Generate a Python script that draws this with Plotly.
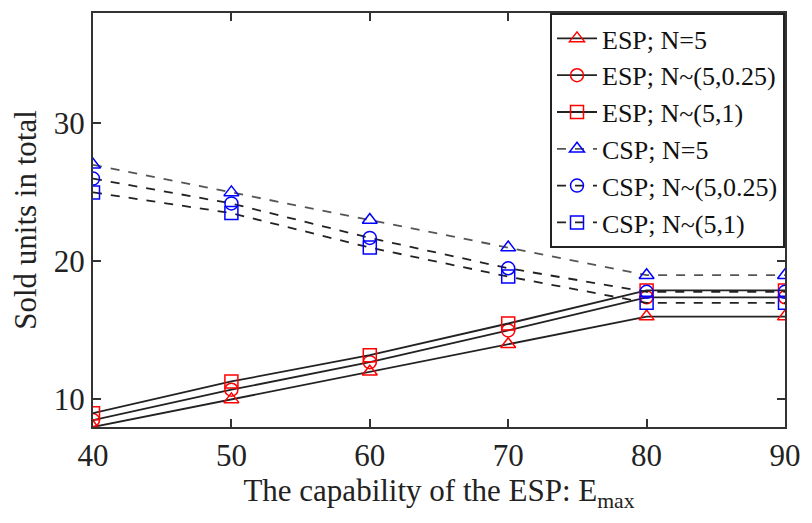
import plotly.graph_objects as go

x_vals = [40, 50, 60, 70, 80, 90]

esp_n5 = [8, 10, 12, 14, 16, 16]
esp_n025 = [8.5, 10.7, 12.7, 15.0, 17.4, 17.4]
esp_n1 = [9, 11.3, 13.2, 15.5, 17.9, 17.9]
csp_n5 = [27, 25, 23, 21, 19, 19]
csp_n025 = [26, 24.2, 21.7, 19.5, 17.8, 17.8]
csp_n1 = [25, 23.5, 21, 18.9, 17, 17]

series = [
    ("ESP; N=5", esp_n5, "triangle-up-open", "red", "solid", "#222222"),
    ("ESP; N~(5,0.25)", esp_n025, "circle-open", "red", "solid", "#222222"),
    ("ESP; N~(5,1)", esp_n1, "square-open", "red", "solid", "#222222"),
    ("CSP; N=5", csp_n5, "triangle-up-open", "blue", "dash", "#555555"),
    ("CSP; N~(5,0.25)", csp_n025, "circle-open", "blue", "dash", "#222222"),
    ("CSP; N~(5,1)", csp_n1, "square-open", "blue", "dash", "#222222"),
]

font_family = "Liberation Serif, Times New Roman, serif"

fig = go.Figure()
for name, ys, sym, col, dash, lcol in series:
    fig.add_trace(go.Scatter(
        x=x_vals, y=ys, name=name, mode="lines+markers",
        line=dict(color=lcol, width=1.8, dash=dash),
        marker=dict(symbol=sym, color=col, size=13, line=dict(width=1.5, color=col)),
    ))

axis_common = dict(
    showline=True, linecolor="#333333", linewidth=2, mirror="ticks",
    ticks="inside", ticklen=8, tickwidth=2, tickcolor="#333333",
    showgrid=False, zeroline=False,
    tickfont=dict(family=font_family, size=31, color="#222222"),
)

fig.update_layout(
    width=812, height=523,
    margin=dict(l=93, r=19, t=11, b=96),
    plot_bgcolor="white", paper_bgcolor="white",
    font=dict(family=font_family, size=31, color="#222222"),
    xaxis=dict(range=[40, 90], tickvals=[40, 50, 60, 70, 80, 90],
               title=dict(text="The capability of the ESP: E<sub>max</sub>",
                          font=dict(family=font_family, size=31), standoff=6),
               **axis_common),
    yaxis=dict(range=[8, 38], tickvals=[10, 20, 30],
               title=dict(text="Sold units in total",
                          font=dict(family=font_family, size=31), standoff=8),
               **axis_common),
    legend=dict(x=1, y=1, xanchor="right", yanchor="top",
                bgcolor="white", bordercolor="#222222", borderwidth=2,
                font=dict(family=font_family, size=26, color="#111111"),
                tracegroupgap=0, itemwidth=40),
    showlegend=True,
)

fig.write_html("out.html")
